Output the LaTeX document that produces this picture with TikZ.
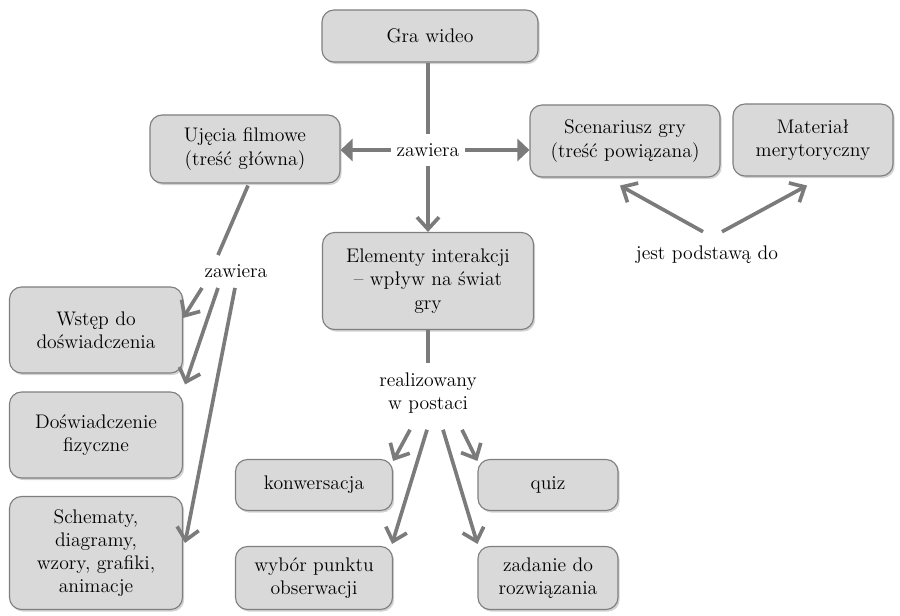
\documentclass[tikz,border=0pt]{standalone}
\usepackage{tikz}
\usetikzlibrary{arrows.meta,calc,shadows}

\definecolor{boxfill}{HTML}{D9D9D9}
\definecolor{boxline}{HTML}{7F7F7F}
\definecolor{conn}{HTML}{7B7B7B}

\tikzset{
	box/.style={draw=boxline, fill=boxfill, line width=0.8pt, rounded corners=0.3cm, align=center,
		font=\fontsize{14}{16.5}\selectfont,
		drop shadow={shadow xshift=1.2pt, shadow yshift=-1.5pt, opacity=0.35}},
	boxsize/.style 2 args={minimum width=#1*0.025cm, minimum height=#2*0.025cm},
	lab/.style={align=center, inner xsep=4pt, inner ysep=6.5pt, font=\fontsize{14}{16.5}\selectfont},
	con/.style={draw=conn, line width=2.6pt},
	barb/.style={con, -{Straight Barb[length=3mm,width=5.5mm]}},
	tri/.style={con, -{Triangle[length=3mm,width=5.5mm]}}
}

\begin{document}
\begin{tikzpicture}[x=0.025cm, y=-0.025cm]
		\useasboundingbox (0,0) rectangle (900,616);
		\node[box, boxsize={216}{52}] (gra) at (430,36) {Gra wideo};
		\node[box, boxsize={190}{68}] (ujecia) at (245,149) {Ujęcia filmowe\\(treść główna)};
		\node[box, boxsize={190}{72}] (scen) at (625,141) {Scenariusz gry\\(treść powiązana)};
		\node[box, boxsize={160}{72}] (mat) at (813,140) {Materiał\\merytoryczny};
		\node[box, boxsize={211}{97}] (elem) at (428,281) {Elementy interakcji\\– wpływ na świat\\gry};
		\node[box, boxsize={173}{86}] (wstep) at (96,330) {Wstęp do\\doświadczenia};
		\node[box, boxsize={173}{86}] (dosw) at (96,435) {Doświadczenie\\fizyczne};
		\node[box, boxsize={173}{113}] (schem) at (96,553) {Schematy,\\diagramy,\\wzory, grafiki,\\animacje};
		\node[box, boxsize={157}{51}] (konw) at (314,485) {konwersacja};
		\node[box, boxsize={140}{51}] (quiz) at (548,485) {quiz};
		\node[box, boxsize={157}{63}] (wybor) at (314,578) {wybór punktu\\obserwacji};
		\node[box, boxsize={140}{63}] (zad) at (548,578) {zadanie do\\rozwiązania};

		\node[lab] (zaw1) at (428,150) {zawiera};
		\node[lab] (zaw2) at (236,271) {zawiera};
		\node[lab] (real) at (428,393) {realizowany\\w postaci};
		\node[lab] (jest) at (707,255) {jest podstawą do};

		\path[con] (zaw1 |- gra.south) -- (zaw1.north);
		\path[tri] (zaw1) -- (zaw1 -| ujecia.east);
		\path[tri] (zaw1) -- (zaw1 -| scen.west);
		\path[barb] (zaw1) -- (elem);
		\path[con] (elem) -- (real);

		\path[con] ($(ujecia.south)+(3,2)$) -- ($(zaw2.north)+(-18,0)$);
		\path[barb] ($(zaw2.south)+(-34,1)$) -- ($(wstep.east)+(0,-12)$);
		\path[barb] ($(zaw2.south)+(-18,1)$) -- ($(dosw.north east)+(2,-7)$);
		\path[barb] ($(zaw2.south)+(-1,1)$) -- ($(schem.east)+(2,-10)$);

		\path[barb] ($(real.south)+(-18,7)$) -- ($(konw.north east)+(0,2)$);
		\path[barb] ($(real.south)+(-1,7)$) -- ($(wybor.north east)+(-1,-2)$);
		\path[barb] ($(real.south)+(15,7)$) -- ($(zad.north west)+(0,-2)$);
		\path[barb] ($(real.south)+(34,7)$) -- ($(quiz.north west)+(0,2)$);

		\path[barb] ($(jest.north)+(-4,-5)$) -- ($(scen.south)+(-5,8)$);
		\path[barb] ($(jest.north)+(15,-5)$) -- ($(mat.south)+(-6,9)$);
\end{tikzpicture}
\end{document}
